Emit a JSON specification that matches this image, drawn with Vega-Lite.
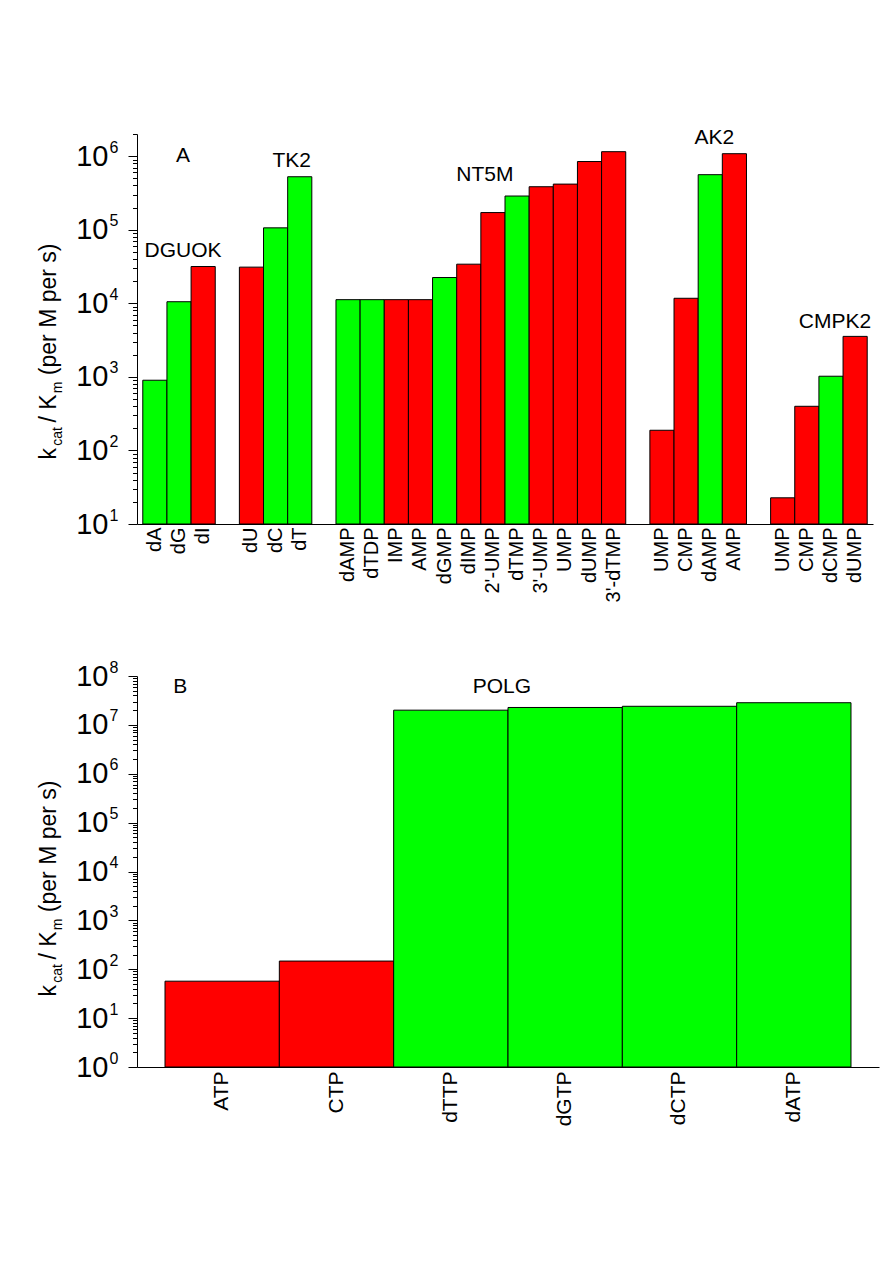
{
  "$schema": "https://vega.github.io/schema/vega-lite/v6.json",
  "padding": {"left": 37, "top": 126, "right": 5, "bottom": 5},
  "spacing": 57,
  "config": {
    "view": {"stroke": null},
    "font": "Liberation Sans",
    "axis": {"grid": false, "domainColor": "black", "tickColor": "black", "labelColor": "black", "titleColor": "black", "labelFont": "Liberation Sans", "titleFont": "Liberation Sans", "titleFontWeight": "normal", "labelOverlap": false, "labelFlush": false}
  },
  "datasets": {
    "panelA": [
      {"enzyme": "DGUOK", "substrate": "dA", "id": "DGUOK:dA", "value": 900, "color": "green"},
      {"enzyme": "DGUOK", "substrate": "dG", "id": "DGUOK:dG", "value": 10500, "color": "green"},
      {"enzyme": "DGUOK", "substrate": "dI", "id": "DGUOK:dI", "value": 31600, "color": "red"},
      {"enzyme": "TK2", "substrate": "dU", "id": "TK2:dU", "value": 31000, "color": "red"},
      {"enzyme": "TK2", "substrate": "dC", "id": "TK2:dC", "value": 106000, "color": "green"},
      {"enzyme": "TK2", "substrate": "dT", "id": "TK2:dT", "value": 525000, "color": "green"},
      {"enzyme": "NT5M", "substrate": "dAMP", "id": "NT5M:dAMP", "value": 11200, "color": "green"},
      {"enzyme": "NT5M", "substrate": "dTDP", "id": "NT5M:dTDP", "value": 11200, "color": "green"},
      {"enzyme": "NT5M", "substrate": "IMP", "id": "NT5M:IMP", "value": 11200, "color": "red"},
      {"enzyme": "NT5M", "substrate": "AMP", "id": "NT5M:AMP", "value": 11200, "color": "red"},
      {"enzyme": "NT5M", "substrate": "dGMP", "id": "NT5M:dGMP", "value": 22400, "color": "green"},
      {"enzyme": "NT5M", "substrate": "dIMP", "id": "NT5M:dIMP", "value": 34000, "color": "red"},
      {"enzyme": "NT5M", "substrate": "2'-UMP", "id": "NT5M:2'-UMP", "value": 171000, "color": "red"},
      {"enzyme": "NT5M", "substrate": "dTMP", "id": "NT5M:dTMP", "value": 287000, "color": "green"},
      {"enzyme": "NT5M", "substrate": "3'-UMP", "id": "NT5M:3'-UMP", "value": 384000, "color": "red"},
      {"enzyme": "NT5M", "substrate": "UMP", "id": "NT5M:UMP", "value": 417000, "color": "red"},
      {"enzyme": "NT5M", "substrate": "dUMP", "id": "NT5M:dUMP", "value": 845000, "color": "red"},
      {"enzyme": "NT5M", "substrate": "3'-dTMP", "id": "NT5M:3'-dTMP", "value": 1150000, "color": "red"},
      {"enzyme": "AK2", "substrate": "UMP", "id": "AK2:UMP", "value": 188, "color": "red"},
      {"enzyme": "AK2", "substrate": "CMP", "id": "AK2:CMP", "value": 11700, "color": "red"},
      {"enzyme": "AK2", "substrate": "dAMP", "id": "AK2:dAMP", "value": 560000, "color": "green"},
      {"enzyme": "AK2", "substrate": "AMP", "id": "AK2:AMP", "value": 1080000, "color": "red"},
      {"enzyme": "CMPK2", "substrate": "UMP", "id": "CMPK2:UMP", "value": 22.7, "color": "red"},
      {"enzyme": "CMPK2", "substrate": "CMP", "id": "CMPK2:CMP", "value": 398, "color": "red"},
      {"enzyme": "CMPK2", "substrate": "dCMP", "id": "CMPK2:dCMP", "value": 1020, "color": "green"},
      {"enzyme": "CMPK2", "substrate": "dUMP", "id": "CMPK2:dUMP", "value": 3550, "color": "red"}
    ],
    "labelsA1": [
      {"text": "A", "id": "DGUOK:dG", "y": 1000000},
      {"text": "DGUOK", "id": "DGUOK:dG", "y": 52000},
      {"text": "AK2", "id": "AK2:dAMP", "y": 1780000},
      {"text": "CMPK2", "id": "CMPK2:dCMP", "y": 5500}
    ],
    "labelsA2": [
      {"text": "TK2", "id": "TK2:dT", "y": 870000},
      {"text": "NT5M", "id": "NT5M:2'-UMP", "y": 550000}
    ],
    "panelB": [
      {"enzyme": "POLG", "substrate": "ATP", "value": 57, "color": "red"},
      {"enzyme": "POLG", "substrate": "CTP", "value": 147, "color": "red"},
      {"enzyme": "POLG", "substrate": "dTTP", "value": 20000000, "color": "green"},
      {"enzyme": "POLG", "substrate": "dGTP", "value": 22700000, "color": "green"},
      {"enzyme": "POLG", "substrate": "dCTP", "value": 24000000, "color": "green"},
      {"enzyme": "POLG", "substrate": "dATP", "value": 28400000, "color": "green"}
    ],
    "labelsB1": [{"text": "B", "substrate": "ATP", "y": 60000000}],
    "labelsB2": [{"text": "POLG", "substrate": "dTTP", "y": 59000000}]
  },
  "vconcat": [
    {
      "width": 736,
      "height": 390,
      "resolve": {"axis": {"x": "independent", "y": "independent"}},
      "layer": [
        {
          "data": {"name": "panelA"},
          "mark": {"type": "bar", "stroke": "black", "strokeWidth": 1},
          "encoding": {
            "x": {
              "field": "id", "type": "nominal", "sort": null,
              "scale": {"domain": ["DGUOK:dA", "DGUOK:dG", "DGUOK:dI", "gap1", "TK2:dU", "TK2:dC", "TK2:dT", "gap2", "NT5M:dAMP", "NT5M:dTDP", "NT5M:IMP", "NT5M:AMP", "NT5M:dGMP", "NT5M:dIMP", "NT5M:2'-UMP", "NT5M:dTMP", "NT5M:3'-UMP", "NT5M:UMP", "NT5M:dUMP", "NT5M:3'-dTMP", "gap3", "AK2:UMP", "AK2:CMP", "AK2:dAMP", "AK2:AMP", "gap4", "CMPK2:UMP", "CMPK2:CMP", "CMPK2:dCMP", "CMPK2:dUMP"], "paddingInner": 0, "paddingOuter": 0.24},
              "axis": {"orient": "bottom", "title": null, "domain": true, "domainColor": "black", "domainWidth": 1, "labelExpr": "indexof(datum.value, ':') > 0 ? substring(datum.value, indexof(datum.value, ':') + 1) : ''", "labelAngle": -90, "ticks": false, "labelPadding": 3, "labelFontSize": 20}
            },
            "y": {
              "field": "value", "type": "quantitative",
              "scale": {"type": "log", "domain": [10, 2000000], "nice": false},
              "axis": {"orient": "left", "values": [10, 100, 1000, 10000, 100000, 1000000], "labelExpr": "'10'", "labelFontSize": 29, "labelPadding": 20, "tickSize": 9, "title": "k\u00a0\u00a0\u00a0\u00a0/ K\u00a0\u00a0\u00a0(per M per s)", "titleFontSize": 23, "titleX": -82, "titleY": 217, "titleAngle": -90, "titleAlign": "center", "titleBaseline": "alphabetic"}
            },
            "y2": {"datum": 10},
            "fill": {"field": "color", "type": "nominal", "scale": {"domain": ["green", "red"], "range": ["#00ff00", "#ff0000"]}, "legend": null}
          }
        },
        {
          "mark": {"type": "rule", "color": "black", "strokeWidth": 1},
          "encoding": {"y": {"datum": 10, "type": "quantitative", "axis": null}}
        },
        {
          "data": {"name": "labelsA1"},
          "mark": {"type": "text", "fontSize": 21, "dx": 4, "color": "black", "baseline": "middle"},
          "encoding": {
            "x": {"field": "id", "type": "nominal", "axis": null},
            "y": {
              "field": "y", "type": "quantitative",
              "scale": {"type": "log", "domain": [10, 2000000], "nice": false},
              "axis": {"orient": "left", "values": [10, 100, 1000, 10000, 100000, 1000000], "labelExpr": "format(round(log(datum.value) / LN10), 'd')", "labelFontSize": 16, "labelAlign": "left", "labelBaseline": "middle", "labelPadding": 28, "labelOffset": -9, "ticks": false, "domain": false, "title": "cat", "titleFontSize": 14, "titleX": -76, "titleY": 302, "titleAngle": -90, "titleAlign": "center", "titleBaseline": "alphabetic"}
            },
            "text": {"field": "text"}
          }
        },
        {
          "data": {"name": "labelsA2"},
          "mark": {"type": "text", "fontSize": 21, "dx": -8, "color": "black", "baseline": "middle"},
          "encoding": {
            "x": {"field": "id", "type": "nominal", "axis": null},
            "y": {
              "field": "y", "type": "quantitative",
              "scale": {"type": "log", "domain": [10, 2000000], "nice": false},
              "axis": {"orient": "left", "values": [20, 30, 40, 50, 60, 70, 80, 90, 200, 300, 400, 500, 600, 700, 800, 900, 2000, 3000, 4000, 5000, 6000, 7000, 8000, 9000, 20000, 30000, 40000, 50000, 60000, 70000, 80000, 90000, 200000, 300000, 400000, 500000, 600000, 700000, 800000, 900000, 2000000], "labels": false, "tickSize": 4.5, "domain": false, "title": "m", "titleFontSize": 14, "titleX": -76, "titleY": 253, "titleAngle": -90, "titleAlign": "center", "titleBaseline": "alphabetic"}
            },
            "text": {"field": "text"}
          }
        }
      ]
    },
    {
      "width": 742,
      "height": 391,
      "resolve": {"axis": {"x": "independent", "y": "independent"}},
      "layer": [
        {
          "data": {"name": "panelB"},
          "mark": {"type": "bar", "stroke": "black", "strokeWidth": 1},
          "encoding": {
            "x": {
              "field": "substrate", "type": "nominal", "sort": null,
              "scale": {"domain": ["ATP", "CTP", "dTTP", "dGTP", "dCTP", "dATP"], "paddingInner": 0, "paddingOuter": 0.245},
              "axis": {"orient": "bottom", "title": null, "domain": true, "domainColor": "black", "domainWidth": 1, "labelAngle": -90, "ticks": false, "labelPadding": 4, "labelFontSize": 21}
            },
            "y": {
              "field": "value", "type": "quantitative",
              "scale": {"type": "log", "domain": [1, 100000000], "nice": false},
              "axis": {"orient": "left", "values": [1, 10, 100, 1000, 10000, 100000, 1000000, 10000000, 100000000], "labelExpr": "'10'", "labelFontSize": 29, "labelPadding": 20, "tickSize": 9, "title": "k\u00a0\u00a0\u00a0\u00a0/ K\u00a0\u00a0\u00a0(per M per s)", "titleFontSize": 23, "titleX": -82, "titleY": 212, "titleAngle": -90, "titleAlign": "center", "titleBaseline": "alphabetic"}
            },
            "y2": {"datum": 1},
            "fill": {"field": "color", "type": "nominal", "scale": {"domain": ["green", "red"], "range": ["#00ff00", "#ff0000"]}, "legend": null}
          }
        },
        {
          "mark": {"type": "rule", "color": "black", "strokeWidth": 1},
          "encoding": {"y": {"datum": 1, "type": "quantitative", "axis": null}}
        },
        {
          "data": {"name": "labelsB1"},
          "mark": {"type": "text", "fontSize": 21, "dx": -42, "color": "black", "baseline": "middle"},
          "encoding": {
            "x": {"field": "substrate", "type": "nominal", "axis": null},
            "y": {
              "field": "y", "type": "quantitative",
              "scale": {"type": "log", "domain": [1, 100000000], "nice": false},
              "axis": {"orient": "left", "values": [1, 10, 100, 1000, 10000, 100000, 1000000, 10000000, 100000000], "labelExpr": "format(round(log(datum.value) / LN10), 'd')", "labelFontSize": 16, "labelAlign": "left", "labelBaseline": "middle", "labelPadding": 28, "labelOffset": -9, "ticks": false, "domain": false, "title": "cat", "titleFontSize": 14, "titleX": -76, "titleY": 297, "titleAngle": -90, "titleAlign": "center", "titleBaseline": "alphabetic"}
            },
            "text": {"field": "text"}
          }
        },
        {
          "data": {"name": "labelsB2"},
          "mark": {"type": "text", "fontSize": 21, "dx": 51, "color": "black", "baseline": "middle"},
          "encoding": {
            "x": {"field": "substrate", "type": "nominal", "axis": null},
            "y": {
              "field": "y", "type": "quantitative",
              "scale": {"type": "log", "domain": [1, 100000000], "nice": false},
              "axis": {"orient": "left", "values": [2, 3, 4, 5, 6, 7, 8, 9, 20, 30, 40, 50, 60, 70, 80, 90, 200, 300, 400, 500, 600, 700, 800, 900, 2000, 3000, 4000, 5000, 6000, 7000, 8000, 9000, 20000, 30000, 40000, 50000, 60000, 70000, 80000, 90000, 200000, 300000, 400000, 500000, 600000, 700000, 800000, 900000, 2000000, 3000000, 4000000, 5000000, 6000000, 7000000, 8000000, 9000000, 20000000, 30000000, 40000000, 50000000, 60000000, 70000000, 80000000, 90000000], "labels": false, "tickSize": 4.5, "domain": false, "title": "m", "titleFontSize": 14, "titleX": -76, "titleY": 248, "titleAngle": -90, "titleAlign": "center", "titleBaseline": "alphabetic"}
            },
            "text": {"field": "text"}
          }
        }
      ]
    }
  ]
}
